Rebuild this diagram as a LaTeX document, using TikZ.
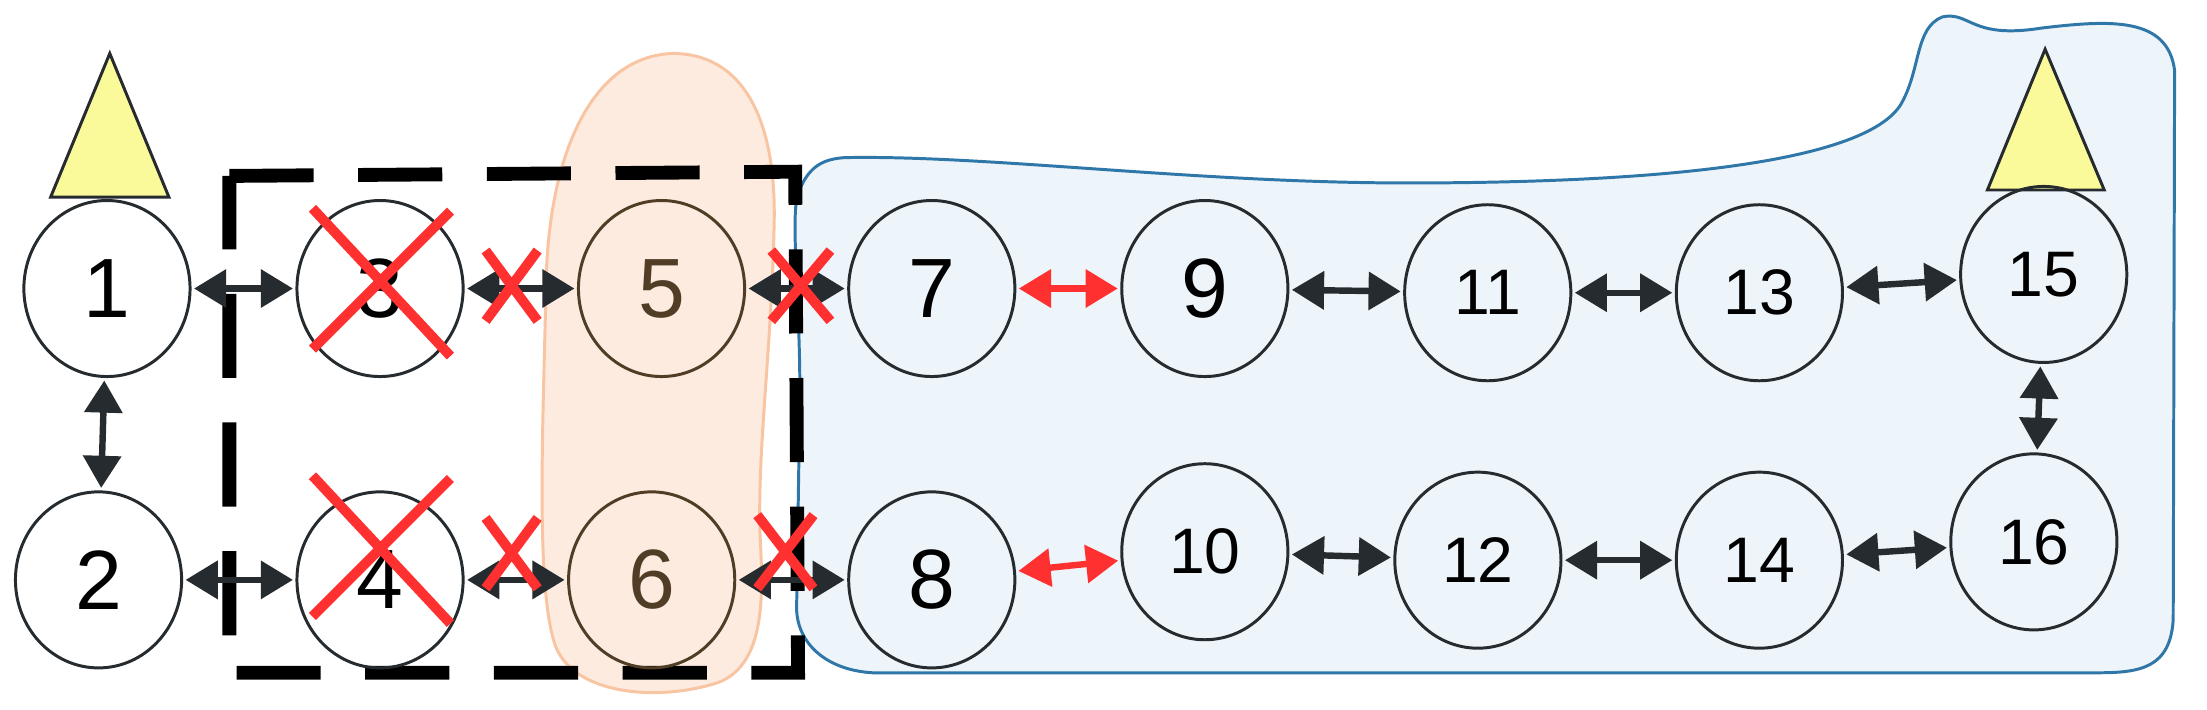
\documentclass[tikz,border=0pt]{standalone}
\usepackage{fontspec}
\setmainfont{Liberation Sans}
\usetikzlibrary{shapes.geometric,arrows.meta}
\definecolor{blueF}{HTML}{EEF5FA}
\definecolor{blueD}{HTML}{2E77A8}
\definecolor{orF}{HTML}{FDEBDF}
\definecolor{orD}{HTML}{F8C4A2}
\definecolor{dk}{HTML}{252B2E}
\definecolor{rd}{HTML}{FF3030}
\definecolor{tri}{HTML}{FAFA9A}
\begin{document}
\begin{tikzpicture}[x=0.01cm,y=-0.01cm,
 nd/.style={ellipse,draw=dk,line width=0.6pt,minimum width=1.18cm,minimum height=1.25cm,inner sep=0pt},
 big/.style={font=\fontsize{17}{17}\selectfont},
 sm/.style={font=\fontsize{13}{13}\selectfont},
 ar/.style={{Triangle[length=6.5pt,width=7.5pt]}-{Triangle[length=6.5pt,width=7.5pt]},line width=1.3pt,draw=dk,shorten <=0.5pt,shorten >=0.5pt},
 rar/.style={ar,draw=rd},
 xx/.style={draw=rd,line width=2pt},
 tr/.style={draw=dk,fill=tri,line width=0.6pt}]
\useasboundingbox (0,0) rectangle (1568,504);
% blue blob
\path[fill=blueF,draw=blueD,line width=0.6pt]
 (600,112) .. controls (700,110) and (850,130) .. (1000,130)
 .. controls (1150,130) and (1320,120) .. (1350,75)
 .. controls (1365,50) and (1360,20) .. (1380,12)
 .. controls (1400,8) and (1400,28) .. (1450,20)
 .. controls (1500,14) and (1540,12) .. (1545,50)
 -- (1544,440) .. controls (1542,475) and (1520,478) .. (1490,478)
 -- (620,478) .. controls (585,476) and (565,455) .. (566,430)
 -- (568,300) .. controls (570,220) and (560,150) .. (568,135)
 .. controls (575,118) and (585,113) .. (600,112) -- cycle;
% orange blob
\path[fill=orF,draw=orD,line width=0.6pt]
 (478,38) .. controls (420,40) and (390,110) .. (388,200)
 .. controls (386,300) and (380,420) .. (395,460)
 .. controls (410,495) and (470,498) .. (510,485)
 .. controls (545,472) and (542,420) .. (540,380)
 .. controls (538,320) and (548,250) .. (550,160)
 .. controls (552,80) and (525,38) .. (478,38) -- cycle;
% dashed rectangle
\draw[line width=2.8pt,dash pattern=on 17pt off 9pt] (163,125) -- (565,122) -- (567,478) -- (163,478) -- cycle;
% triangles
\draw[tr] (78,38) -- (120,140) -- (36,140) -- cycle;
\draw[tr] (1453,35) -- (1495,135) -- (1412,135) -- cycle;
% nodes
\node[nd,big] (n1) at (76,205) {1};
\node[nd,big] (n2) at (70,412) {2};
\node[nd,big] (n3) at (270,205) {3};
\node[nd,big] (n4) at (270,412) {4};
\node[nd,big,draw=dk!80!orange] (n5) at (470,205) {\textcolor{dk!80!orange}{5}};
\node[nd,big,draw=dk!80!orange] (n6) at (463,412) {\textcolor{dk!80!orange}{6}};
\node[nd,big] (n7) at (662,205) {7};
\node[nd,big] (n8) at (662,412) {8};
\node[nd,big] (n9) at (856,205) {9};
\node[nd,sm] (n10) at (856,392) {10};
\node[nd,sm] (n11) at (1057,208) {11};
\node[nd,sm] (n12) at (1050,398) {12};
\node[nd,sm] (n13) at (1250,208) {13};
\node[nd,sm] (n14) at (1250,398) {14};
\node[nd,sm] (n15) at (1452,195) {15};
\node[nd,sm] (n16) at (1445,385) {16};
% arrows
\draw[ar] (n1) -- (n3);
\draw[ar] (n1) -- (n2);
\draw[ar] (n2) -- (n4);
\draw[ar] (n3) -- (n5);
\draw[ar] (n4) -- (n6);
\draw[ar] (n5) -- (n7);
\draw[ar] (n6) -- (n8);
\draw[rar] (n7) -- (n9);
\draw[rar] (n8) -- (n10);
\draw[ar] (n9) -- (n11);
\draw[ar] (n11) -- (n13);
\draw[ar] (n13) -- (n15);
\draw[ar] (n15) -- (n16);
\draw[ar] (n10) -- (n12);
\draw[ar] (n12) -- (n14);
\draw[ar] (n14) -- (n16);
% crosses
\draw[xx] (222,148) -- (320,253) (320,150) -- (222,248);
\draw[xx] (222,338) -- (320,443) (320,340) -- (222,438);
\draw[xx] (345,178) -- (382,228) (382,178) -- (345,228);
\draw[xx] (345,368) -- (382,418) (382,368) -- (345,418);
\draw[xx] (548,178) -- (590,228) (590,178) -- (548,228);
\draw[xx] (538,366) -- (578,418) (578,366) -- (538,418);
\end{tikzpicture}
\end{document}
